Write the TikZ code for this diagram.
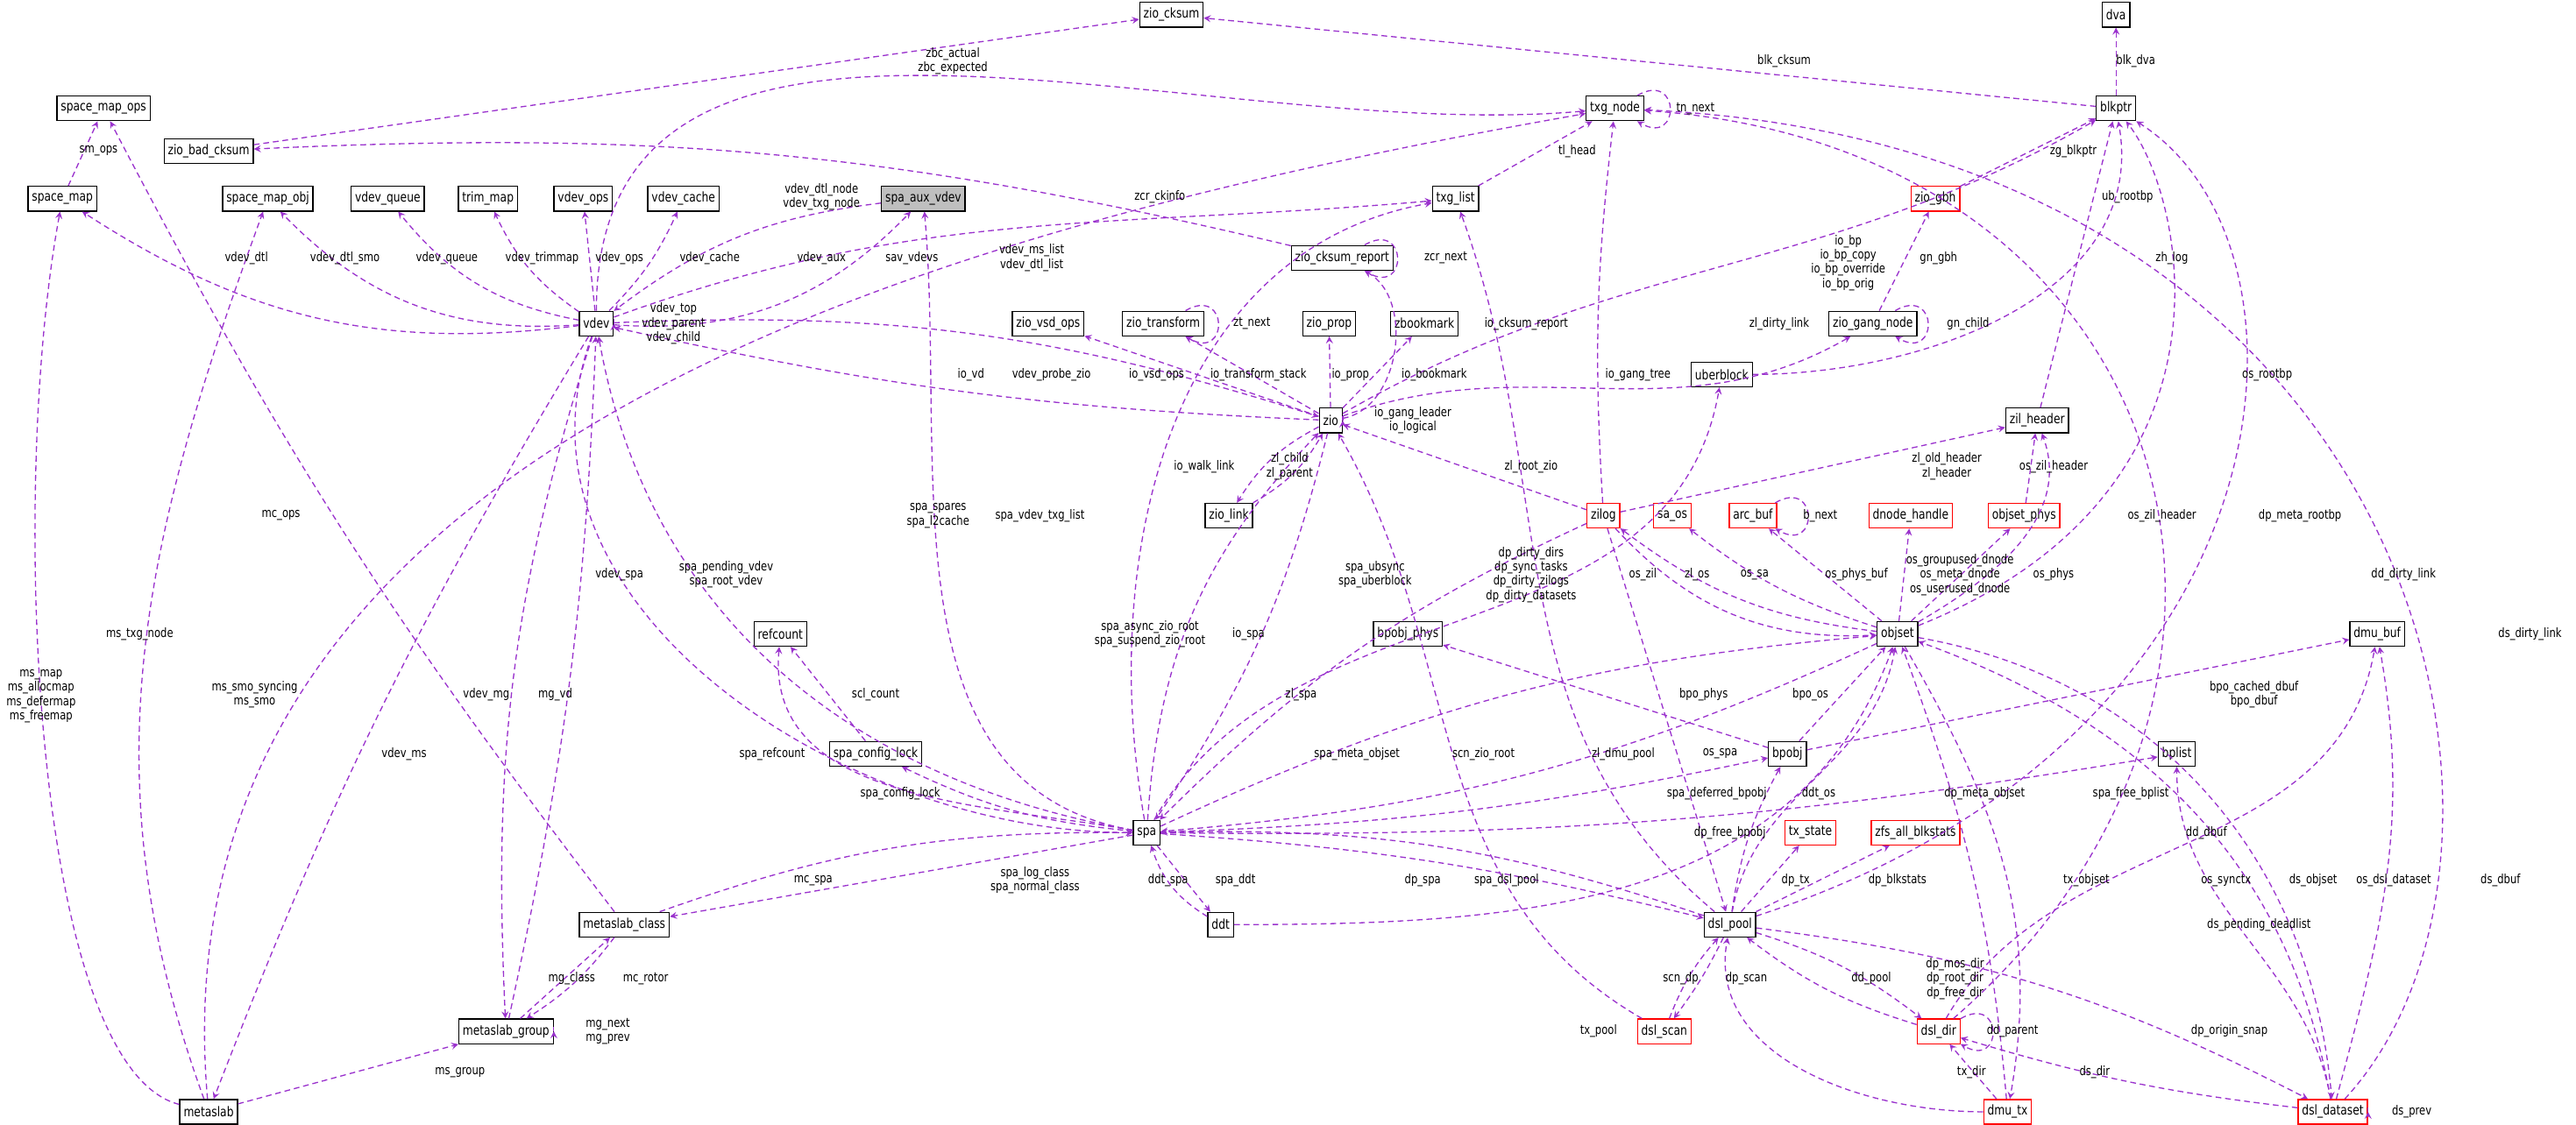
\documentclass[tikz,border=0pt]{standalone}
\usepackage{fontspec}
\setmainfont{DejaVu Sans}[FakeStretch=0.8]
\usepackage{tikz}
\usetikzlibrary{shapes,arrows,positioning,calc}
\definecolor{refcol}{HTML}{9A32CD}
\definecolor{redbox}{HTML}{FF0000}
\definecolor{grayfill}{HTML}{BFBFBF}

\begin{document}
\begin{tikzpicture}[
    x=0.03cm, y=-0.03cm,
    type/.style={rectangle, draw=black, semithick, fill=white, font=\fontsize{7}{8}\selectfont, inner sep=2pt, minimum height=0.45cm},
    redtype/.style={type, draw=redbox},
    focus/.style={type, fill=grayfill},
    lbl/.style={font=\fontsize{6.6}{7.4}\selectfont, align=center, inner sep=0.5pt},
    ref/.style={->, >=stealth, densely dashed, refcol, semithick},
    loop/.style={ref, out=30, in=-30, looseness=5}
]
    \useasboundingbox (0,0) rectangle (1568,685);

    % Types
    \node[type] (zio_cksum) at (713,9) {zio\_cksum};
    \node[type] (dva) at (1288,9) {dva};
    \node[type] (space_map_ops) at (63,66) {space\_map\_ops};
    \node[type] (txg_node) at (983,66) {txg\_node};
    \node[type] (blkptr) at (1288,66) {blkptr};
    \node[type] (zio_bad_cksum) at (127,92) {zio\_bad\_cksum};
    \node[type] (space_map) at (38,121) {space\_map};
    \node[type] (space_map_obj) at (163,121) {space\_map\_obj};
    \node[type] (vdev_queue) at (236,121) {vdev\_queue};
    \node[type] (trim_map) at (297,121) {trim\_map};
    \node[type] (vdev_ops) at (355,121) {vdev\_ops};
    \node[type] (vdev_cache) at (416,121) {vdev\_cache};
    \node[focus] (spa_aux_vdev) at (562,121) {spa\_aux\_vdev};
    \node[type] (txg_list) at (886,121) {txg\_list};
    \node[redtype] (zio_gbh) at (1178,121) {zio\_gbh};
    \node[type] (zio_cksum_report) at (817,157) {zio\_cksum\_report};
    \node[type] (vdev) at (363,197) {vdev};
    \node[type] (zio_vsd_ops) at (638,197) {zio\_vsd\_ops};
    \node[type] (zio_transform) at (708,197) {zio\_transform};
    \node[type] (zio_prop) at (809,197) {zio\_prop};
    \node[type] (zbookmark) at (867,197) {zbookmark};
    \node[type] (zio_gang_node) at (1140,197) {zio\_gang\_node};
    \node[type] (uberblock) at (1048,228) {uberblock};
    \node[type] (zio) at (810,256) {zio};
    \node[type] (zil_header) at (1240,256) {zil\_header};
    \node[type] (zio_link) at (748,314) {zio\_link};
    \node[redtype] (zilog) at (976,314) {zilog};
    \node[redtype] (sa_os) at (1018,314) {sa\_os};
    \node[redtype] (arc_buf) at (1067,314) {arc\_buf};
    \node[redtype] (dnode_handle) at (1163,314) {dnode\_handle};
    \node[redtype] (objset_phys) at (1232,314) {objset\_phys};
    \node[type] (refcount) at (475,386) {refcount};
    \node[type] (bpobj_phys) at (857,386) {bpobj\_phys};
    \node[type] (objset) at (1155,386) {objset};
    \node[type] (dmu_buf) at (1447,386) {dmu\_buf};
    \node[type] (spa_config_lock) at (533,459) {spa\_config\_lock};
    \node[type] (bpobj) at (1088,459) {bpobj};
    \node[type] (bplist) at (1325,459) {bplist};
    \node[type] (spa) at (698,507) {spa};
    \node[redtype] (tx_state) at (1102,507) {tx\_state};
    \node[redtype] (zfs_all_blkstats) at (1166,507) {zfs\_all\_blkstats};
    \node[type] (metaslab_class) at (380,563) {metaslab\_class};
    \node[type] (ddt) at (743,563) {ddt};
    \node[type] (dsl_pool) at (1053,563) {dsl\_pool};
    \node[type] (metaslab_group) at (308,628) {metaslab\_group};
    \node[redtype] (dsl_scan) at (1013,628) {dsl\_scan};
    \node[redtype] (dsl_dir) at (1180,628) {dsl\_dir};
    \node[type] (metaslab) at (127,677) {metaslab};
    \node[redtype] (dmu_tx) at (1222,677) {dmu\_tx};
    \node[redtype] (dsl_dataset) at (1420,677) {dsl\_dataset};

    % Top references
    \draw[ref] (zio_bad_cksum) -- (zio_cksum);
    \draw[ref] (blkptr) -- (zio_cksum);
    \draw[ref] (blkptr) -- (dva);
    \draw[ref] (space_map) -- (space_map_ops);
    \draw[ref] (metaslab_class) to[bend left=5] (space_map_ops);
    \draw[ref] (txg_node) to[loop] (txg_node);
    \draw[ref] (txg_list) -- (txg_node);
    \draw[ref] (zio_cksum_report) to[bend right=8] (zio_bad_cksum);
    \draw[ref] (zio_cksum_report) to[loop] (zio_cksum_report);
    \draw[ref] (vdev) to[out=90, in=185] (txg_node);
    \draw[ref] (metaslab) to[out=95, in=190] (txg_node);
    \draw[ref] (dsl_dir) .. controls (1420,420) and (1330,90) .. (txg_node);
    \draw[ref] (dsl_dataset) .. controls (1565,520) and (1480,90) .. (txg_node);
    \draw[ref] (zilog) to[bend left=5] (txg_node);

    % vdev
    \draw[ref] (vdev) to[bend left=20] (space_map);
    \draw[ref] (vdev) to[bend left=25] (space_map_obj);
    \draw[ref] (vdev) to[bend left=20] (vdev_queue);
    \draw[ref] (vdev) to[bend left=15] (trim_map);
    \draw[ref] (vdev) -- (vdev_ops);
    \draw[ref] (vdev) to[bend right=10] (vdev_cache);
    \draw[ref] (vdev) to[bend right=25] (spa_aux_vdev);
    \draw[ref] (spa_aux_vdev) to[bend right=15] (vdev);
    \draw[ref] (vdev) to[out=20, in=185] (txg_list);
    \draw[ref] (vdev.east) to[out=20, in=-20, looseness=6] (vdev.east);
    \draw[ref] (vdev) to[bend right=5] (metaslab);
    \draw[ref] (vdev) to[bend right=10] (metaslab_group);
    \draw[ref] (metaslab_group) to[bend right=5] (vdev);
    \draw[ref] (vdev) to[out=-110, in=180] (spa);
    \draw[ref] (spa) to[out=170, in=-80] (vdev);

    % blkptr
    \draw[ref] (zio_gbh) -- (blkptr);
    \draw[ref] (uberblock) to[out=0, in=-80] (blkptr);
    \draw[ref] (zil_header) -- (blkptr);
    \draw[ref] (zio) to[out=30, in=-150] (blkptr);
    \draw[ref] (objset) .. controls (1370,300) and (1330,120) .. (blkptr);
    \draw[ref] (dsl_pool) .. controls (1400,450) and (1420,150) .. (blkptr);
    \draw[ref] (zio_gang_node) -- (zio_gbh);
    \draw[ref] (zio_gang_node) to[loop] (zio_gang_node);

    % zio
    \draw[ref] (zio) to[out=20, in=-150] (zio_gang_node);
    \draw[ref] (zio) to[bend left=5] (vdev);
    \draw[ref] (vdev) to[bend left=10] (zio);
    \draw[ref] (zio) -- (zio_vsd_ops);
    \draw[ref] (zio) -- (zio_transform);
    \draw[ref] (zio_transform) to[loop] (zio_transform);
    \draw[ref] (zio) -- (zio_prop);
    \draw[ref] (zio) -- (zbookmark);
    \draw[ref] (zio) to[out=10, in=-30] (zio_cksum_report);
    \draw[ref] (zio.east) to[out=20, in=-20, looseness=6] (zio.east);
    \draw[ref] (zio) to[bend right=15] (zio_link);
    \draw[ref] (zio_link) to[bend right=15] (zio);
    \draw[ref] (zilog) -- (zio);
    \draw[ref] (zio) to[bend left=10] (spa);
    \draw[ref] (spa) to[bend left=20] (zio);
    \draw[ref] (dsl_scan) to[out=150, in=-60] (zio);

    % zilog and objset
    \draw[ref] (zilog) -- (zil_header);
    \draw[ref] (objset_phys) -- (zil_header);
    \draw[ref] (objset) to[out=30, in=-70] (zil_header);
    \draw[ref] (arc_buf) to[loop] (arc_buf);
    \draw[ref] (objset) to[bend left=15] (zilog);
    \draw[ref] (zilog) to[bend right=25] (objset);
    \draw[ref] (objset) to[bend left=10] (sa_os);
    \draw[ref] (objset) -- (arc_buf);
    \draw[ref] (objset) -- (dnode_handle);
    \draw[ref] (objset) -- (objset_phys);

    % spa
    \draw[ref] (spa) to[out=170, in=-85] (spa_aux_vdev);
    \draw[ref] (spa) to[out=100, in=190] (txg_list);
    \draw[ref] (dsl_pool) to[out=140, in=-70] (txg_list);
    \draw[ref] (spa) to[out=60, in=-100] (uberblock);
    \draw[ref] (spa_config_lock) -- (refcount);
    \draw[ref] (spa) to[out=170, in=-95] (refcount);
    \draw[ref] (spa) to[bend left=10] (spa_config_lock);
    \draw[ref] (zilog) to[bend right=10] (spa);
    \draw[ref] (spa) to[bend left=10] (objset);
    \draw[ref] (objset) to[bend left=10] (spa);
    \draw[ref] (zilog) -- (dsl_pool);
    \draw[ref] (spa) to[bend right=5] (bpobj);
    \draw[ref] (spa) to[bend right=5] (bplist);
    \draw[ref] (metaslab_class) to[bend left=10] (spa);
    \draw[ref] (spa) -- (metaslab_class);
    \draw[ref] (ddt) to[bend left=20] (spa);
    \draw[ref] (spa) -- (ddt);
    \draw[ref] (dsl_pool) to[bend right=10] (spa);
    \draw[ref] (spa) to[bend left=5] (dsl_pool);

    % bpobj, dsl
    \draw[ref] (bpobj) -- (bpobj_phys);
    \draw[ref] (bpobj) -- (objset);
    \draw[ref] (bpobj) -- (dmu_buf);
    \draw[ref] (dsl_pool) to[out=80, in=-100] (objset);
    \draw[ref] (ddt) to[out=0, in=-110] (objset);
    \draw[ref] (dsl_pool) to[bend left=10] (bpobj);
    \draw[ref] (dsl_pool) -- (tx_state);
    \draw[ref] (dsl_pool) -- (zfs_all_blkstats);
    \draw[ref] (dsl_dir) to[out=60, in=-100] (dmu_buf);
    \draw[ref] (objset) to[out=-60, in=80] (dmu_tx);
    \draw[ref] (dsl_dataset) to[out=100, in=-20] (objset);
    \draw[ref] (objset) to[out=-10, in=95] (dsl_dataset);
    \draw[ref] (dsl_dataset) to[out=75, in=-80] (dmu_buf);
    \draw[ref] (dmu_tx) to[out=95, in=-70] (objset);
    \draw[ref] (dsl_dataset) to[out=100, in=-90] (bplist);
    \draw[ref] (dsl_scan) to[bend left=10] (dsl_pool);
    \draw[ref] (dsl_pool) to[bend left=5] (dsl_scan);
    \draw[ref] (dsl_dir) to[bend left=10] (dsl_pool);
    \draw[ref] (dsl_pool) to[bend left=10] (dsl_dir);
    \draw[ref] (dsl_dir) to[loop] (dsl_dir);
    \draw[ref] (dsl_pool) to[bend left=10] (dsl_dataset);
    \draw[ref] (dsl_dataset) to[bend left=5] (dsl_dir);
    \draw[ref] (dmu_tx) -- (dsl_dir);
    \draw[ref] (dmu_tx) to[out=180, in=-100] (dsl_pool);
    \draw[ref] (dsl_dataset.east) to[out=20, in=-20, looseness=5] (dsl_dataset.east);

    % metaslab
    \draw[ref] (metaslab) .. controls (20,650) and (5,300) .. (space_map);
    \draw[ref] (metaslab) to[out=110, in=-110] (space_map_obj);
    \draw[ref] (metaslab_group) -- (metaslab_class);
    \draw[ref] (metaslab_class) to[bend left=10] (metaslab_group);
    \draw[ref] (metaslab_group.east) to[out=20, in=-20, looseness=4] (metaslab_group.east);
    \draw[ref] (metaslab) -- (metaslab_group);

    % Labels
    \node[lbl] (l_zbc) at (580,37) {zbc\_actual\\zbc\_expected};
    \node[lbl] (l_blkcksum) at (1086,37) {blk\_cksum};
    \node[lbl] (l_blkdva) at (1300,37) {blk\_dva};
    \node[lbl] (l_smops) at (60,92) {sm\_ops};
    \node[lbl] (l_tnnext) at (1032,66) {tn\_next};
    \node[lbl] (l_tlhead) at (960,92) {tl\_head};
    \node[lbl] (l_zgblkptr) at (1262,92) {zg\_blkptr};
    \node[lbl] (l_zcrckinfo) at (706,120) {zcr\_ckinfo};
    \node[lbl] (l_vdtl) at (500,120) {vdev\_dtl\_node\\vdev\_txg\_node};
    \node[lbl] (l_ubrootbp) at (1295,120) {ub\_rootbp};
    \node[lbl] (l_msl) at (628,157) {vdev\_ms\_list\\vdev\_dtl\_list};
    \node[lbl] (l_zcrnext) at (880,157) {zcr\_next};
    \node[lbl] (l_iobp) at (1125,160) {io\_bp\\io\_bp\_copy\\io\_bp\_override\\io\_bp\_orig};
    \node[lbl] (l_gngbh) at (1180,157) {gn\_gbh};
    \node[lbl] (l_zhlog) at (1322,157) {zh\_log};
    \node[lbl] (l_vdevdtl) at (150,157) {vdev\_dtl};
    \node[lbl] (l_vdevdtlsmo) at (210,157) {vdev\_dtl\_smo};
    \node[lbl] (l_vdevqueue) at (272,157) {vdev\_queue};
    \node[lbl] (l_vdevtrim) at (330,157) {vdev\_trimmap};
    \node[lbl] (l_vdevops) at (377,157) {vdev\_ops};
    \node[lbl] (l_vdevcache) at (432,157) {vdev\_cache};
    \node[lbl] (l_vdevaux) at (500,157) {vdev\_aux};
    \node[lbl] (l_savvdevs) at (555,157) {sav\_vdevs};
    \node[lbl] (l_vdevtop) at (410,197) {vdev\_top\\vdev\_parent\\vdev\_child};
    \node[lbl] (l_ztnext) at (762,197) {zt\_next};
    \node[lbl] (l_iocksum) at (929,197) {io\_cksum\_report};
    \node[lbl] (l_zldirty) at (1083,197) {zl\_dirty\_link};
    \node[lbl] (l_gnchild) at (1198,197) {gn\_child};
    \node[lbl] (l_iovd) at (591,228) {io\_vd};
    \node[lbl] (l_probe) at (640,228) {vdev\_probe\_zio};
    \node[lbl] (l_iovsd) at (704,228) {io\_vsd\_ops};
    \node[lbl] (l_iots) at (766,228) {io\_transform\_stack};
    \node[lbl] (l_ioprop) at (822,228) {io\_prop};
    \node[lbl] (l_iobm) at (873,228) {io\_bookmark};
    \node[lbl] (l_iogang) at (997,228) {io\_gang\_tree};
    \node[lbl] (l_osrootbp) at (1380,228) {os\_rootbp};
    \node[lbl] (l_iogl) at (860,256) {io\_gang\_leader\\io\_logical};
    \node[lbl] (l_iowalk) at (733,284) {io\_walk\_link};
    \node[lbl] (l_zlchild) at (785,284) {zl\_child\\zl\_parent};
    \node[lbl] (l_zlroot) at (932,284) {zl\_root\_zio};
    \node[lbl] (l_zloldh) at (1185,284) {zl\_old\_header\\zl\_header};
    \node[lbl] (l_oszilh1) at (1250,284) {os\_zil\_header};
    \node[lbl] (l_spares) at (571,314) {spa\_spares\\spa\_l2cache};
    \node[lbl] (l_vtxg) at (633,314) {spa\_vdev\_txg\_list};
    \node[lbl] (l_mcops) at (171,314) {mc\_ops};
    \node[lbl] (l_bnext) at (1108,314) {b\_next};
    \node[lbl] (l_oszilh2) at (1316,314) {os\_zil\_header};
    \node[lbl] (l_dpmetarootbp) at (1400,314) {dp\_meta\_rootbp};
    \node[lbl] (l_vdevspa) at (377,350) {vdev\_spa};
    \node[lbl] (l_pendv) at (442,350) {spa\_pending\_vdev\\spa\_root\_vdev};
    \node[lbl] (l_ubsync) at (837,350) {spa\_ubsync\\spa\_uberblock};
    \node[lbl] (l_dpdirty) at (932,350) {dp\_dirty\_dirs\\dp\_sync\_tasks\\dp\_dirty\_zilogs\\dp\_dirty\_datasets};
    \node[lbl] (l_oszil) at (1000,350) {os\_zil};
    \node[lbl] (l_zlos) at (1033,350) {zl\_os};
    \node[lbl] (l_ossa) at (1068,350) {os\_sa};
    \node[lbl] (l_osphysbuf) at (1130,350) {os\_phys\_buf};
    \node[lbl] (l_osdnode) at (1193,350) {os\_groupused\_dnode\\os\_meta\_dnode\\os\_userused\_dnode};
    \node[lbl] (l_osphys) at (1250,350) {os\_phys};
    \node[lbl] (l_dddirty) at (1463,350) {dd\_dirty\_link};
    \node[lbl] (l_mstxg) at (85,386) {ms\_txg\_node};
    \node[lbl] (l_async) at (700,386) {spa\_async\_zio\_root\\spa\_suspend\_zio\_root};
    \node[lbl] (l_iospa) at (760,386) {io\_spa};
    \node[lbl] (l_dsdirty) at (1540,386) {ds\_dirty\_link};
    \node[lbl] (l_msmap) at (25,424) {ms\_map\\ms\_allocmap\\ms\_defermap\\ms\_freemap};
    \node[lbl] (l_mssmo) at (155,423) {ms\_smo\_syncing\\ms\_smo};
    \node[lbl] (l_vdevmg) at (296,423) {vdev\_mg};
    \node[lbl] (l_mgvd) at (338,423) {mg\_vd};
    \node[lbl] (l_sclcount) at (533,423) {scl\_count};
    \node[lbl] (l_zlspa) at (792,423) {zl\_spa};
    \node[lbl] (l_bpophys) at (1037,423) {bpo\_phys};
    \node[lbl] (l_bpoos) at (1102,423) {bpo\_os};
    \node[lbl] (l_bpodbuf) at (1372,423) {bpo\_cached\_dbuf\\bpo\_dbuf};
    \node[lbl] (l_vdevms) at (246,459) {vdev\_ms};
    \node[lbl] (l_sparef) at (470,459) {spa\_refcount};
    \node[lbl] (l_metaobjset) at (826,459) {spa\_meta\_objset};
    \node[lbl] (l_scnzio) at (903,459) {scn\_zio\_root};
    \node[lbl] (l_zldmu) at (988,459) {zl\_dmu\_pool};
    \node[lbl] (l_osspa) at (1047,459) {os\_spa};
    \node[lbl] (l_scl) at (548,483) {spa\_config\_lock};
    \node[lbl] (l_deferred) at (1045,483) {spa\_deferred\_bpobj};
    \node[lbl] (l_ddtos) at (1107,483) {ddt\_os};
    \node[lbl] (l_dpmeta) at (1208,483) {dp\_meta\_objset};
    \node[lbl] (l_freebplist) at (1297,483) {spa\_free\_bplist};
    \node[lbl] (l_dpfree) at (1053,507) {dp\_free\_bpobj};
    \node[lbl] (l_dddbuf) at (1343,507) {dd\_dbuf};
    \node[lbl] (l_mcspa) at (495,536) {mc\_spa};
    \node[lbl] (l_logclass) at (630,536) {spa\_log\_class\\spa\_normal\_class};
    \node[lbl] (l_ddtspa) at (711,536) {ddt\_spa};
    \node[lbl] (l_spaddt) at (752,536) {spa\_ddt};
    \node[lbl] (l_dpspa) at (866,536) {dp\_spa};
    \node[lbl] (l_spadsl) at (917,536) {spa\_dsl\_pool};
    \node[lbl] (l_dptx) at (1093,536) {dp\_tx};
    \node[lbl] (l_dpblk) at (1155,536) {dp\_blkstats};
    \node[lbl] (l_txobjset) at (1270,536) {tx\_objset};
    \node[lbl] (l_ossynctx) at (1355,536) {os\_synctx};
    \node[lbl] (l_dsobjset) at (1408,536) {ds\_objset};
    \node[lbl] (l_osdsl) at (1457,536) {os\_dsl\_dataset};
    \node[lbl] (l_dsdbuf) at (1522,536) {ds\_dbuf};
    \node[lbl] (l_dspend) at (1375,563) {ds\_pending\_deadlist};
    \node[lbl] (l_mgclass) at (348,596) {mg\_class};
    \node[lbl] (l_mcrotor) at (393,596) {mc\_rotor};
    \node[lbl] (l_scndp) at (1023,596) {scn\_dp};
    \node[lbl] (l_dpscan) at (1063,596) {dp\_scan};
    \node[lbl] (l_ddpool) at (1139,596) {dd\_pool};
    \node[lbl] (l_dpmos) at (1190,596) {dp\_mos\_dir\\dp\_root\_dir\\dp\_free\_dir};
    \node[lbl] (l_mgnext) at (370,628) {mg\_next\\mg\_prev};
    \node[lbl] (l_txpool) at (973,628) {tx\_pool};
    \node[lbl] (l_ddparent) at (1225,628) {dd\_parent};
    \node[lbl] (l_dporigin) at (1357,628) {dp\_origin\_snap};
    \node[lbl] (l_msgroup) at (280,653) {ms\_group};
    \node[lbl] (l_txdir) at (1200,653) {tx\_dir};
    \node[lbl] (l_dsdir) at (1275,653) {ds\_dir};
    \node[lbl] (l_dsprev) at (1468,677) {ds\_prev};
\end{tikzpicture}
\end{document}
